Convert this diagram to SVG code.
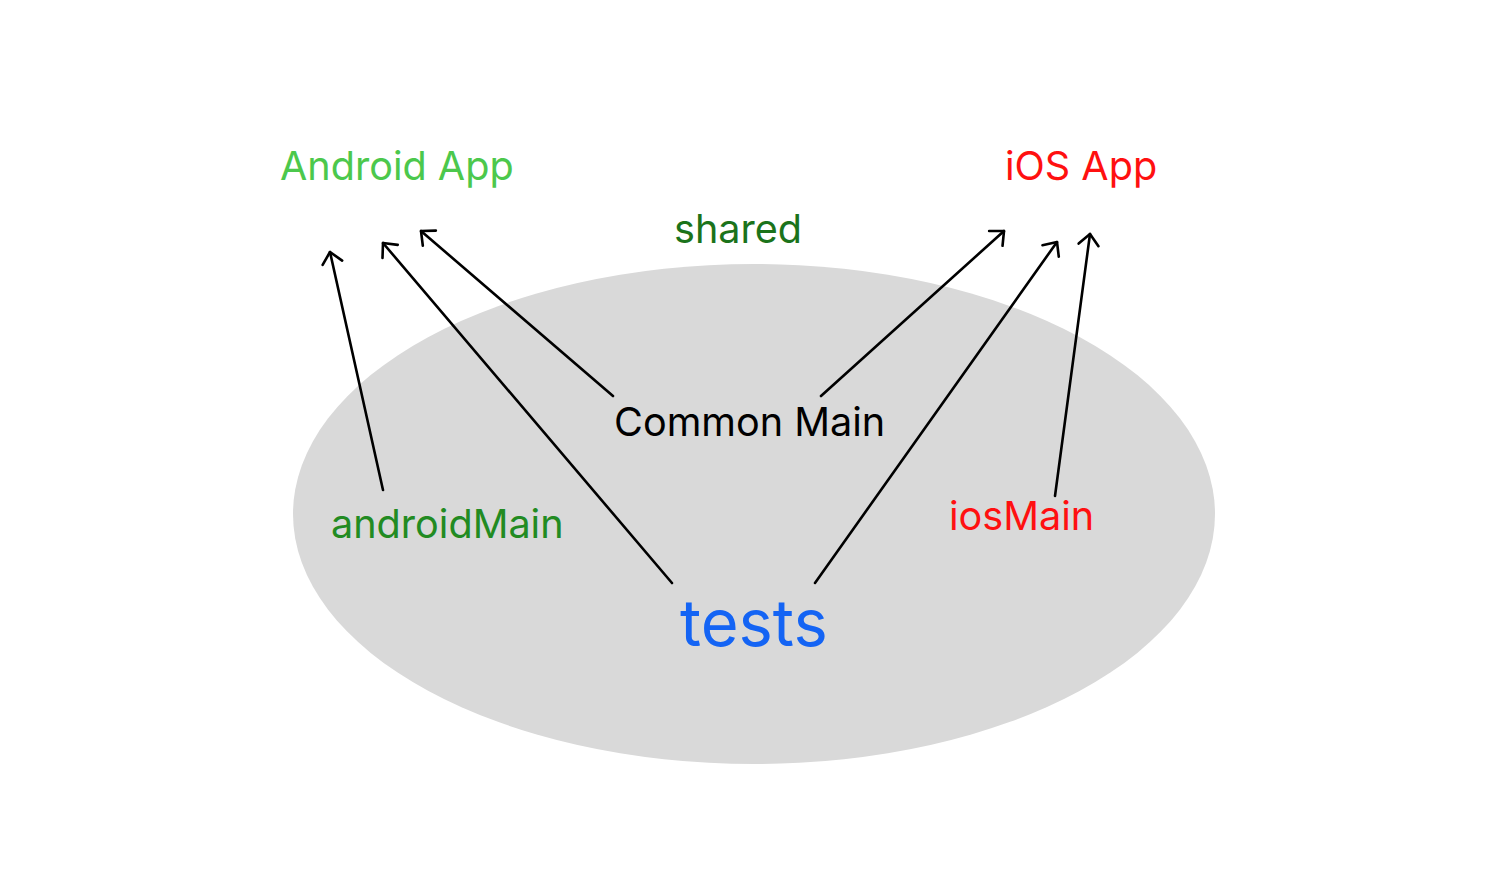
<svg xmlns="http://www.w3.org/2000/svg" width="1510" height="896" viewBox="0 0 1510 896">
<style>
text{font-family:Inter,"Noto Sans","Liberation Sans",sans-serif;font-size:39.6px}
.c{fill:none;stroke:#000;stroke-width:2.6;stroke-linecap:round;marker-end:url(#a)}
</style>
<defs>
<marker id="a" viewBox="-16 -12 18 24" refX="0" refY="0" markerWidth="18" markerHeight="24" markerUnits="userSpaceOnUse" orient="auto">
<path d="M-11,-10 L0,0 L-11,10" fill="none" stroke="#000" stroke-width="2.6" stroke-linecap="round" stroke-linejoin="round"/>
</marker>
</defs>
<rect width="1510" height="896" fill="#fff"/>
<g id="shared-area"><ellipse cx="754" cy="514" rx="461" ry="250" fill="#d9d9d9"/></g>
<g id="connectors">
<line class="c" x1="383" y1="490" x2="330" y2="252"/>
<line class="c" x1="672" y1="583" x2="383" y2="243"/>
<line class="c" x1="613" y1="396" x2="421" y2="231"/>
<line class="c" x1="821" y1="396" x2="1004" y2="231"/>
<line class="c" x1="815" y1="583" x2="1057" y2="242"/>
<line class="c" x1="1055" y1="496" x2="1090" y2="234"/>
</g>
<g id="android-app"><text x="280" y="180" fill="#4cc84c">Android App</text></g>
<g id="ios-app"><text x="1005" y="180" fill="#ff1010">iOS App</text></g>
<g id="shared"><text x="674" y="243" fill="#1b731b">shared</text></g>
<g id="common-main"><text x="614" y="436" fill="#000">Common Main</text></g>
<g id="android-main"><text x="331" y="538" fill="#228b22">androidMain</text></g>
<g id="ios-main"><text x="949" y="530" fill="#ff1010">iosMain</text></g>
<g id="tests"><text x="680" y="646" fill="#1464f4" style="font-size:65px">tests</text></g>
</svg>
